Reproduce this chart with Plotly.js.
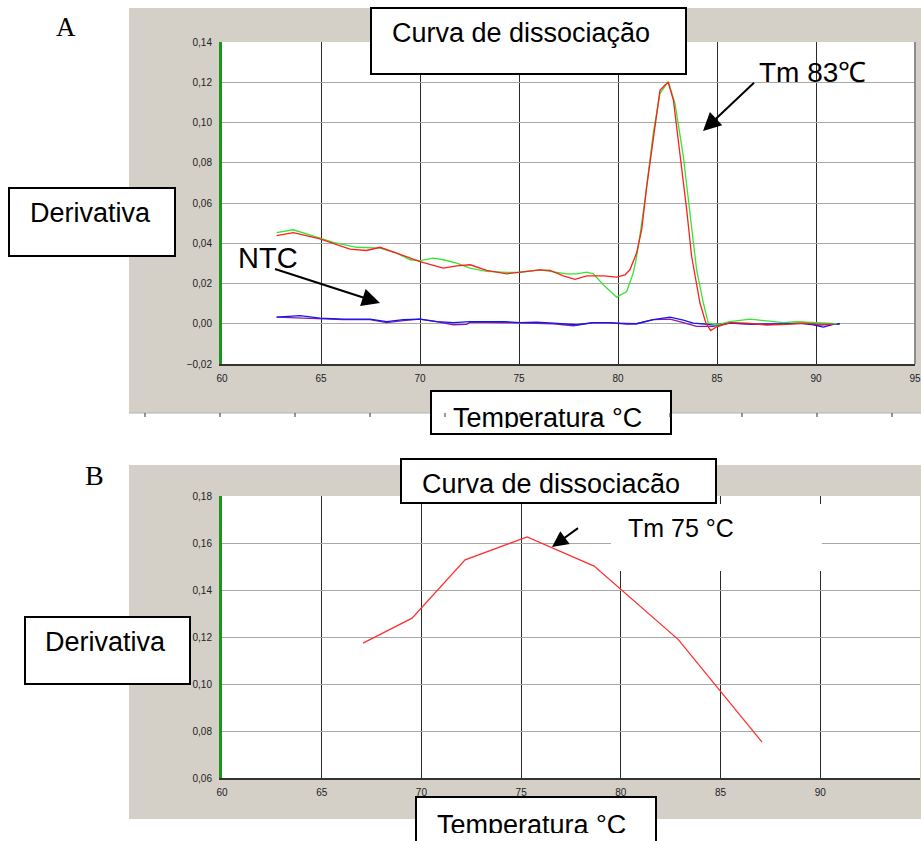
<!DOCTYPE html>
<html><head><meta charset="utf-8">
<script src="https://cdn.plot.ly/plotly-3.0.1.min.js"></script>
<style>html,body{margin:0;padding:0;background:#fff}</style>
</head><body><div id="chart" style="width:921px;height:841px"></div>
<script>
// ---------- DATA ----------
// Panel A
const tempA_green = [62.76,63.6,64.95,65.62,66.8,67.98,68.82,69.5,70.0,70.67,71.18,71.85,72.53,73.37,74.38,75.05,76.06,76.57,77.41,77.91,78.42,78.75,79.26,79.93,80.44,80.77,80.94,81.1,81.36,81.78,82.12,82.54,82.88,83.3,83.64,83.97,84.31,84.56,84.98,85.66,86.67,87.5,88.35,89.02,89.86,90.7,91.05];
const derivA_green = [0.0453,0.0467,0.0425,0.0404,0.038,0.0376,0.0351,0.0318,0.0314,0.0326,0.0318,0.0301,0.0276,0.026,0.0255,0.0256,0.0268,0.026,0.0248,0.0248,0.0256,0.0248,0.0194,0.0132,0.016,0.0252,0.0334,0.0433,0.0615,0.0946,0.1145,0.1203,0.1095,0.083,0.0549,0.0268,0.0103,0.0003,-0.0005,0.0011,0.0023,0.0016,0.0006,0.001,0.0006,0.0002,0.0];

const tempA_red = [62.76,63.6,64.95,65.79,66.46,67.3,67.98,68.82,70.0,71.18,71.85,72.53,73.37,74.38,75.05,76.06,76.57,77.24,77.83,78.42,79.26,79.93,80.35,80.6,80.94,81.2,81.45,81.78,81.95,82.12,82.37,82.54,82.8,83.13,83.47,83.72,84.14,84.44,84.68,84.98,85.66,86.5,87.5,88.5,89.36,90.2,90.87];
const derivA_red = [0.0438,0.0453,0.0422,0.0392,0.0371,0.0364,0.038,0.0351,0.0309,0.0276,0.0288,0.0293,0.0265,0.0248,0.0256,0.0268,0.0265,0.0238,0.0221,0.0238,0.0238,0.0232,0.0243,0.0268,0.0351,0.047,0.0681,0.093,0.1046,0.116,0.1186,0.1198,0.111,0.0847,0.0566,0.0334,0.0103,0.0003,-0.0034,-0.0015,0.0006,0.0003,-0.0007,-0.0003,0.0003,-0.0003,-0.0002];

const tempA_blue = [62.76,63.94,64.95,66.13,67.47,68.32,69.16,70.0,70.84,71.68,72.53,73.37,74.21,75.05,75.89,76.73,77.91,78.75,79.6,80.44,80.94,81.78,82.63,83.3,83.8,84.81,85.66,86.83,88.18,89.19,89.86,90.37,90.87,91.2];
const derivA_blue = [0.0033,0.004,0.0028,0.0023,0.0023,0.0011,0.002,0.0023,0.0011,0.0006,0.0011,0.0011,0.0011,0.0006,0.0008,0.0003,-0.0005,0.0006,0.0006,-0.0002,0.0,0.002,0.0033,0.0018,0.0003,-0.0005,0.0003,-0.0002,-0.0002,0.0003,-0.0005,-0.0017,-0.0003,0.0];

const tempA_purple = [62.76,63.94,64.95,66.13,67.47,68.32,69.16,70.0,70.84,71.68,72.36,72.53,74.21,75.05,76.73,77.74,78.75,79.93,80.94,81.78,82.63,83.3,83.97,84.81,85.66,86.83,88.18,89.5,90.2,90.87,91.2];
const derivA_purple = [0.0033,0.0028,0.0023,0.002,0.002,0.0006,0.0016,0.0023,0.0011,-0.0005,-0.0003,0.0008,0.0006,0.0003,0.0,-0.001,0.0006,0.0003,0.0,0.002,0.0023,0.0006,-0.0013,-0.0013,0.0003,-0.0003,-0.0002,0.0002,-0.0007,-0.0003,0.0];

// Panel B
const tempB_red = [67.07,69.53,72.19,75.3,78.66,82.87,87.08];
const derivB_red = [0.1174,0.128,0.1528,0.1626,0.1502,0.119,0.0753];

// Axis ranges / ticks
const xRange = [60,95];
const yRangeA = [-0.02,0.14];
const yRangeB = [0.06,0.18];

// Texts
const titleA = "Curva de dissociação";
const titleB = "Curva de dissociacão";
const yLabel = "Derivativa";
const xLabel = "Temperatura °C";
const ntcLabel = "NTC";
const tmA = "Tm 83℃";
const tmB = "Tm 75 °C";

// ---------- LAYOUT HELPERS ----------
const W = 921, H = 841;
const X = p => p / W;
const Y = p => 1 - p / H;
const GRAY = '#d4d0c8';
const SANS = 'Liberation Sans, Arial, sans-serif';
const SERIF = 'Liberation Serif, Times New Roman, serif';

function line(x, y, color, xa, ya) {
  return {x: x, y: y, type: 'scatter', mode: 'lines', xaxis: xa, yaxis: ya,
          line: {color: color, width: 1.3}, hoverinfo: 'skip'};
}

const traces = [
  line(tempA_purple, derivA_purple, '#8a1aa8', 'x', 'y'),
  line(tempA_blue, derivA_blue, '#1414f0', 'x', 'y'),
  line(tempA_green, derivA_green, '#33e633', 'x', 'y'),
  line(tempA_red, derivA_red, '#ff1e1e', 'x', 'y'),
  line(tempB_red, derivB_red, '#ff3030', 'x2', 'y2')
];

const xCommon = {range: xRange, dtick: 5, tick0: 60, showgrid: true, gridcolor: '#2a2a2a', gridwidth: 1,
  zeroline: false, showline: true, linecolor: '#333', linewidth: 2, ticks: 'outside', ticklen: 4,
  tickcolor: 'rgba(0,0,0,0)', tickfont: {size: 10, color: '#222', family: SANS}, fixedrange: true};
const yCommon = {dtick: 0.02, tickformat: '.2f', showgrid: true, gridcolor: '#a8a8a8', gridwidth: 1,
  zeroline: false, showline: true, linecolor: '#1a961a', linewidth: 3, ticks: 'outside', ticklen: 5,
  tickcolor: 'rgba(0,0,0,0)', tickfont: {size: 10, color: '#222', family: SANS}, fixedrange: true};

function rect(x0, y0, x1, y1, fill, lw, layer) {
  return {type: 'rect', xref: 'paper', yref: 'paper', x0: X(x0), x1: X(x1), y0: Y(y1), y1: Y(y0),
          fillcolor: fill, line: {color: '#000', width: lw}, layer: layer};
}
function seg(x0, y0, x1, y1, color, w) {
  return {type: 'line', xref: 'paper', yref: 'paper', x0: X(x0), x1: X(x1), y0: Y(y0), y1: Y(y1),
          line: {color: color, width: w}, layer: 'above'};
}

const shapes = [
  rect(129, 8, 921, 413, GRAY, 0, 'below'),
  rect(129, 465, 921, 819, GRAY, 0, 'below'),
  {type: 'rect', xref: 'x domain', yref: 'y domain', x0: 0, x1: 1, y0: 0, y1: 1, fillcolor: '#fff', line: {width: 0}, layer: 'below'},
  {type: 'rect', xref: 'x2 domain', yref: 'y2 domain', x0: 0, x1: 1, y0: 0, y1: 1, fillcolor: '#fff', line: {width: 0}, layer: 'below'},
  seg(915, 42, 915, 364, '#8c8c8c', 2),
  seg(129, 413, 921, 413, '#b8b4ac', 1),
  // text boxes
  rect(371, 8, 686, 74, '#fff', 2, 'above'),
  rect(9, 188, 175, 256, '#fff', 2, 'above'),
  rect(431, 391, 671, 434, '#fff', 2, 'above'),
  rect(401, 459, 716, 503, '#fff', 2, 'above'),
  rect(25, 617, 190, 684, '#fff', 2, 'above'),
  rect(416, 797, 656, 860, '#fff', 2, 'above'),
  {type: 'rect', xref: 'paper', yref: 'paper', x0: X(611), x1: X(822), y0: Y(571), y1: Y(504),
   fillcolor: '#fff', line: {width: 0}, layer: 'above'}
];
[145, 220, 295, 370, 445, 520, 595, 670, 742, 817, 892].forEach(p => shapes.push(seg(p, 413, p, 417, '#333', 1)));

function txt(t, cx, cy, size, fam) {
  return {text: t, xref: 'paper', yref: 'paper', x: X(cx), y: Y(cy), xanchor: 'center', yanchor: 'middle',
          showarrow: false, font: {size: size, color: '#000', family: fam || SANS}};
}
function arrow(hx, hy, tx, ty, size) {
  return {text: ' ', xref: 'paper', yref: 'paper', x: X(hx), y: Y(hy), ax: tx - hx, ay: ty - hy,
          axref: 'pixel', ayref: 'pixel', showarrow: true, arrowhead: 2, arrowsize: size, arrowwidth: 2,
          arrowcolor: '#000', standoff: 0, startstandoff: 0};
}
function cover(x0, y0, x1, y1) {
  return {text: ' ', xref: 'paper', yref: 'paper', x: X((x0 + x1) / 2), y: Y((y0 + y1) / 2),
          xanchor: 'center', yanchor: 'middle', width: x1 - x0, height: y1 - y0, bgcolor: '#fff',
          borderpad: 0, borderwidth: 0, showarrow: false, font: {size: 4}};
}

const annotations = [
  txt('A', 65.5, 27, 27, SERIF),
  txt('B', 94, 475.5, 28, SERIF),
  txt(titleA, 520.5, 33, 27),
  txt(yLabel, 90, 212.6, 27),
  txt(ntcLabel, 267.5, 258, 29),
  txt(tmA, 812, 73, 28),
  txt(xLabel, 547, 418, 27),
  cover(433, 428, 669, 433),
  arrow(380, 303, 272, 268, 1.8),
  arrow(703, 131, 757, 80, 1.8),
  txt(titleB, 550.5, 483.6, 27),
  txt(yLabel, 105, 641.6, 27),
  txt(tmB, 681, 528, 25),
  arrow(552, 547, 581, 526, 1.6),
  txt(xLabel, 531, 825, 27),
  cover(418, 833, 654, 841)
];

const layout = {
  width: W, height: H, margin: {l: 0, r: 0, t: 0, b: 0}, showlegend: false,
  paper_bgcolor: '#fff', plot_bgcolor: '#fff', separators: ', ',
  font: {family: SANS},
  xaxis: Object.assign({}, xCommon, {domain: [X(222), X(915)], anchor: 'y'}),
  yaxis: Object.assign({}, yCommon, {range: yRangeA, domain: [Y(364), Y(42)], anchor: 'x'}),
  xaxis2: Object.assign({}, xCommon, {domain: [X(222), X(920)], anchor: 'y2'}),
  yaxis2: Object.assign({}, yCommon, {range: yRangeB, domain: [Y(778), Y(496)], anchor: 'x2'}),
  shapes: shapes,
  annotations: annotations
};

Plotly.newPlot('chart', traces, layout, {displayModeBar: false, staticPlot: true});
</script></body></html>
